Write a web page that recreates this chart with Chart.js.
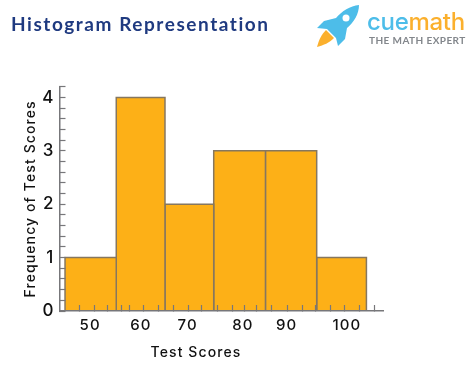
<!DOCTYPE html>
<html>
<head>
<meta charset="utf-8">
<title>Histogram Representation</title>
<script src="https://cdn.jsdelivr.net/npm/chart.js@4"></script>
<style>
  body { margin: 0; background: #fff; width: 474px; height: 367px; overflow: hidden; position: relative; }
  canvas { position: absolute; left: 0; top: 0; }
  .txt { position: absolute; white-space: nowrap; font-family: Lato, sans-serif; }
  #heading { left: 11px; top: 12px; font-size: 19px; font-weight: 700; letter-spacing: 1.55px; color: #1f3a80; }
  #xTitle { left: 96px; width: 200px; text-align: center; top: 343px; font-family: Inter, sans-serif; font-size: 14px; font-weight: 500; letter-spacing: 1.1px; color: #111; }
  #brand { left: 367px; top: 7px; font-family: Inter, sans-serif; font-size: 24px; font-weight: 500; letter-spacing: -.3px; color: #4dbde9; }
  #brand span { color: #fbb02d; }
  #tagline { left: 369px; top: 34px; font-size: 10px; font-weight: 700; letter-spacing: .42px; color: #83878c; }
  #rocket { position: absolute; left: 316px; top: 4px; }
</style>
</head>
<body>
<canvas id="histChart" width="474" height="367"></canvas>
<div class="txt" id="heading">Histogram Representation</div>
<div class="txt" id="xTitle">Test Scores</div>
<svg id="rocket" width="46" height="44" viewBox="0 0 46 44">
  <path d="M1 43 C3 36 5 31 10 26 L18 34 C13 39 8 41 1 43 Z" fill="#fbb02d"/>
  <path d="M43 1 C34 2 26 7 20 14 L8 17 L1 24 L11 25 L20 34 L22 42 L29 35 L31 24 C38 18 43 10 43 1 Z" fill="#4dbde9"/>
  <circle cx="30" cy="14" r="3.5" fill="#fff"/>
</svg>
<div class="txt" id="brand">cue<span>math</span></div>
<div class="txt" id="tagline">THE MATH EXPERT</div>

<script>
// Histogram values
const binEdges = [45.1, 55.3, 65.0, 74.7, 85.0, 95.2, 105.1];
const frequencies = [1, 4, 2, 3, 3, 1];

// Score axis
const xTickLabels = ['50', '60', '70', '80', '90', '100'];
const xLabelValues = [50.1, 60.2, 69.5, 80.5, 89.2, 101.2];
const xMinorTicks = [47.9, 50.9, 53.5, 56.4, 58.0, 60.8, 63.8, 66.6, 69.6, 72.3, 75.4,
  78.5, 80.9, 83.3, 86.3, 89.4, 92.4, 94.9, 97.9, 100.8, 103.8, 106.8];

const axisColor = '#77777a';
const textFont = 'Inter, sans-serif';

// Bins have slightly different widths so each one is its own closed outline
const datasets = frequencies.map((f, i) => ({
  data: [
    { x: binEdges[i], y: 0 },
    { x: binEdges[i], y: f },
    { x: binEdges[i + 1], y: f },
    { x: binEdges[i + 1], y: 0 }
  ],
  showLine: true,
  fill: 'origin',
  backgroundColor: '#fdb017',
  borderColor: '#86775f',
  borderWidth: 1.5,
  pointRadius: 0,
  tension: 0
}));

const spacing = {
  id: 'spacing',
  beforeDraw(chart) { chart.ctx.letterSpacing = '1.1px'; }
};

new Chart(document.getElementById('histChart'), {
  type: 'scatter',
  data: { datasets: datasets },
  plugins: [spacing],
  options: {
    responsive: false,
    animation: false,
    layout: { padding: { top: 86.8, right: 91, left: 0, bottom: 0 } },
    plugins: { legend: { display: false }, tooltip: { enabled: false } },
    scales: {
      x: {
        type: 'linear',
        min: 44,
        max: 108.4,
        afterFit(scale) { scale.height = 56; },
        afterBuildTicks(scale) {
          scale.ticks = xMinorTicks.map(v => ({ value: v }))
            .concat(xLabelValues.map((v, i) => ({ value: v, text: xTickLabels[i] })));
        },
        afterTickToLabelConversion(scale) {
          scale.ticks.forEach(t => { t.label = t.text || ''; });
        },
        grid: {
          z: 1,
          drawOnChartArea: false,
          tickLength: -6,
          tickWidth: 1.2,
          tickColor: ctx => (ctx.tick && ctx.tick.text ? 'transparent' : axisColor)
        },
        border: { color: axisColor, width: 1.5, z: 1 },
        ticks: {
          autoSkip: false,
          maxRotation: 0,
          padding: 11,
          color: '#111',
          font: { family: textFont, size: 15, weight: '500' }
        }
      },
      y: {
        type: 'linear',
        min: 0,
        max: 4.2,
        afterFit(scale) { scale.width = 59.5; },
        grid: {
          z: 1,
          drawOnChartArea: false,
          tickLength: -6,
          tickWidth: 1.2,
          tickColor: axisColor
        },
        border: { color: axisColor, width: 1.5, z: 1 },
        title: {
          display: true,
          text: 'Frequency of Test Scores',
          color: '#111',
          padding: { top: 22, bottom: 0 },
          font: { family: textFont, size: 14, weight: '500' }
        },
        ticks: {
          stepSize: 0.2,
          autoSkip: false,
          padding: 11,
          color: '#111',
          font: { family: textFont, size: 17, weight: '500' },
          callback: v => (Math.abs(v - Math.round(v)) < 0.001 ? String(Math.round(v)) : '')
        }
      }
    }
  }
});
</script>
</body>
</html>
